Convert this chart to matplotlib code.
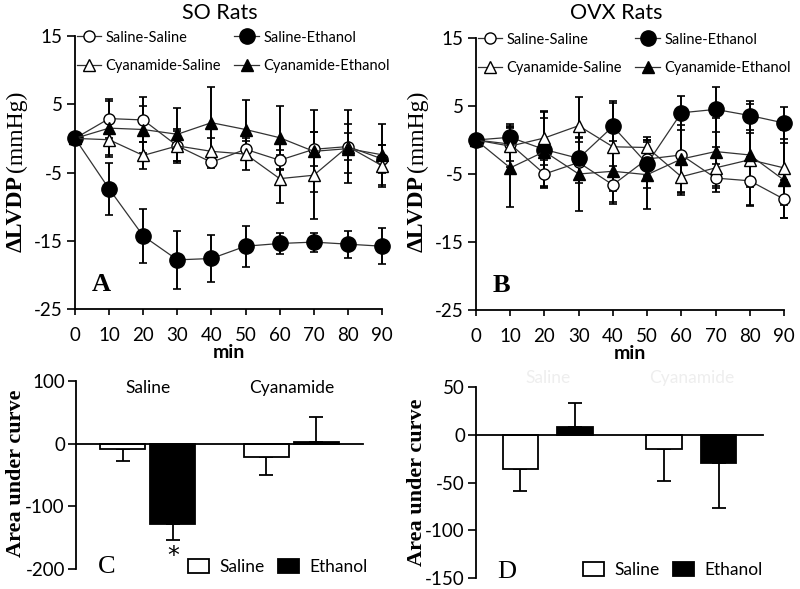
import matplotlib
matplotlib.use("Agg")
import matplotlib.pyplot as plt
from matplotlib.lines import Line2D
from matplotlib.patches import Patch

plt.rcParams["axes.unicode_minus"] = False

SANS = "Lato"
SERIF = "Liberation Serif"

time = [0, 10, 20, 30, 40, 50, 60, 70, 80, 90]
series_names = ["Saline-Saline", "Cyanamide-Saline", "Saline-Ethanol", "Cyanamide-Ethanol"]

# Panel A: SO rats
so_ss = [0, 2.9, 2.7, -1.1, -3.5, -1.6, -3.2, -1.6, -1.2, -3.0]
so_ss_err = [0, 2.8, 3.3, 2.2, 0.8, 1.2, 1.5, 2.5, 2.0, 2.0]
so_se = [0, -7.4, -14.3, -17.8, -17.6, -15.8, -15.4, -15.2, -15.5, -15.8]
so_se_err = [0, 3.8, 4.0, 4.3, 3.4, 3.0, 1.6, 1.4, 2.0, 2.6]
so_cs = [0, -0.2, -2.5, -1.1, -1.9, -2.3, -5.9, -5.4, -1.2, -4.0]
so_cs_err = [0, 2.5, 2.0, 2.5, 2.0, 2.4, 3.5, 6.4, 5.3, 3.1]
so_ce = [0, 1.5, 1.3, 0.6, 2.3, 1.3, 0.1, -1.9, -1.5, -2.4]
so_ce_err = [0, 4.0, 3.5, 3.9, 5.2, 4.3, 4.6, 6.0, 3.6, 4.5]

# Panel B: OVX rats
ovx_ss = [0, -0.6, -5.0, -3.3, -6.6, -2.8, -2.2, -5.6, -6.0, -8.7]
ovx_ss_err = [0, 2.5, 2.0, 3.0, 2.8, 2.5, 5.5, 2.0, 3.5, 2.8]
ovx_se = [0, 0.4, -1.4, -2.7, 2.0, -3.5, 4.0, 4.5, 3.6, 2.5]
ovx_se_err = [0, 2.0, 5.5, 3.0, 3.8, 3.5, 2.5, 3.3, 2.2, 2.4]
ovx_cs = [0, -0.9, 0.3, 2.1, -1.0, -1.1, -5.4, -4.1, -2.9, -4.1]
ovx_cs_err = [0, 3.0, 4.0, 4.2, 6.5, 1.5, 2.7, 3.0, 4.0, 5.5]
ovx_ce = [0, -4.1, -1.7, -5.0, -4.6, -5.1, -2.8, -1.7, -2.2, -5.9]
ovx_ce_err = [0, 5.8, 5.0, 5.4, 4.5, 5.1, 5.0, 5.0, 7.5, 5.5]

# Panels C/D: area under curve
groups = ["Saline", "Cyanamide"]
c_saline = [-8, -22]
c_saline_err = [19, 28]
c_ethanol = [-128, 2]
c_ethanol_err = [26, 40]
d_saline = [-36, -15]
d_saline_err = [23, 33]
d_ethanol = [8, -30]
d_ethanol_err = [25, 47]

W, H = 800, 589
fig = plt.figure(figsize=(8, 5.89), dpi=100)


def ax_px(l, t, r, b):
    return fig.add_axes([l / W, 1 - b / H, (r - l) / W, (b - t) / H])


styles = {
    "Saline-Saline": dict(marker="o", mfc="white", ms=8),
    "Saline-Ethanol": dict(marker="o", mfc="black", ms=11),
    "Cyanamide-Saline": dict(marker="^", mfc="white", ms=8),
    "Cyanamide-Ethanol": dict(marker="^", mfc="black", ms=8),
}


def line_panel(ax, data, letter, leg_x):
    for name, (vals, errs) in data.items():
        st = styles[name]
        ax.errorbar(time, vals, yerr=errs, fmt="none", ecolor="black",
                    elinewidth=1.4, capsize=3, capthick=1.2, clip_on=False, zorder=2)
        ax.plot(time, vals, color="#333333", lw=0.9, marker=st["marker"], ms=st["ms"],
                mfc=st["mfc"], mec="black", mew=1.0, clip_on=False, zorder=3)
    ax.set_xlim(0, 90)
    ax.set_ylim(-25, 15)
    ax.set_xticks(time)
    ax.set_yticks([15, 5, -5, -15, -25])
    for s in ["top", "right"]:
        ax.spines[s].set_visible(False)
    for s in ["left", "bottom"]:
        ax.spines[s].set_linewidth(1.3)
    ax.tick_params(axis="x", direction="out", length=4, width=1.2, labelsize=13.5, pad=9)
    ax.tick_params(axis="y", direction="out", length=6, width=1.2, labelsize=13.5, pad=3)
    for lab in ax.get_xticklabels() + ax.get_yticklabels():
        lab.set_family(SANS)
    ax.set_xlabel("min", fontsize=14, fontweight="bold", family=SANS, labelpad=0)
    ax.text(0.055, 0.09, letter, transform=ax.transAxes, fontsize=19,
            fontweight="bold", family=SERIF, va="center")
    order = ["Saline-Saline", "Cyanamide-Saline", "Saline-Ethanol", "Cyanamide-Ethanol"]
    handles = [Line2D([0], [0], color="#333333", lw=0.9, marker=styles[n]["marker"],
                      ms=styles[n]["ms"], mfc=styles[n]["mfc"], mec="black") for n in order]
    ax.legend(handles, order, ncol=2, loc="upper left", bbox_to_anchor=(leg_x, 1.02),
              frameon=False, handlelength=1.7, handletextpad=0.3, columnspacing=0.9,
              labelspacing=1.0, borderpad=0, borderaxespad=0,
              prop={"family": SANS, "size": 10.5})


axA = ax_px(75, 36, 382, 309)
line_panel(axA, {"Saline-Saline": (so_ss, so_ss_err), "Saline-Ethanol": (so_se, so_se_err),
                 "Cyanamide-Saline": (so_cs, so_cs_err), "Cyanamide-Ethanol": (so_ce, so_ce_err)},
           "A", 0.005)
axB = ax_px(476, 38, 784, 310)
line_panel(axB, {"Saline-Saline": (ovx_ss, ovx_ss_err), "Saline-Ethanol": (ovx_se, ovx_se_err),
                 "Cyanamide-Saline": (ovx_cs, ovx_cs_err), "Cyanamide-Ethanol": (ovx_ce, ovx_ce_err)},
           "B", 0.005)

fig.text(220 / W, 1 - 13 / H, "SO Rats", ha="center", va="center", fontsize=15.5, family=SANS)
fig.text(616 / W, 1 - 13 / H, "OVX Rats", ha="center", va="center", fontsize=15.5, family=SANS)

# y labels for line panels
for x in (16, 417):
    fig.text(x / W, 1 - 214 / H, "ΔLVDP", rotation=90, ha="center", va="center",
             fontsize=17, fontweight="bold", family=SERIF)
    fig.text(x / W, 1 - 131 / H, "(mmHg)", rotation=90, ha="center", va="center",
             fontsize=17, family=SERIF)


def bar_panel(ax, sal, sal_err, eth, eth_err, ylim, yticks, letter, grp_color, grp_y,
              off, width, letter_xy, leg_xy):
    centers = [1, 3]
    xs_s = [c - off for c in centers]
    xs_e = [c + off for c in centers]
    ax.bar(xs_s, sal, width=width, color="white", edgecolor="black", lw=1.3, zorder=2)
    ax.bar(xs_e, eth, width=width, color="black", edgecolor="black", lw=1.3, zorder=2)
    for xs, vals, errs in ((xs_s, sal, sal_err), (xs_e, eth, eth_err)):
        for x, v, e in zip(xs, vals, errs):
            yerr = [[0], [e]] if v >= 0 else [[e], [0]]
            ax.errorbar([x], [v], yerr=yerr, fmt="none", ecolor="black",
                        elinewidth=1.3, capsize=5, capthick=1.3, zorder=1)
    ax.set_ylim(*ylim)
    ax.set_xlim(0, 4)
    ax.set_yticks(yticks)
    ax.set_xticks([])
    ax.spines["top"].set_visible(False)
    ax.spines["right"].set_visible(False)
    ax.spines["bottom"].set_position(("data", 0))
    ax.spines["bottom"].set_linewidth(1.3)
    ax.spines["left"].set_linewidth(1.3)
    ax.tick_params(axis="y", direction="out", length=6, width=1.2, labelsize=13.5, pad=2)
    for lab in ax.get_yticklabels():
        lab.set_family(SANS)
    for c, g in zip(centers, groups):
        ax.text(c, grp_y, g, ha="center", va="center", fontsize=12.5, family=SANS,
                color=grp_color)
    ax.text(letter_xy[0], letter_xy[1], letter, transform=ax.transAxes, fontsize=19,
            family=SERIF, va="center")
    handles = [Patch(facecolor="white", edgecolor="black", lw=1.3),
               Patch(facecolor="black", edgecolor="black", lw=1.3)]
    ax.legend(handles, ["Saline", "Ethanol"], ncol=2, loc="center left",
              bbox_to_anchor=leg_xy, frameon=False, handlelength=1.2,
              handleheight=0.85, handletextpad=0.6, columnspacing=0.8,
              borderpad=0, borderaxespad=0,
              prop={"family": SANS, "size": 12.5})


axC = ax_px(76, 381, 363, 569)
bar_panel(axC, c_saline, c_saline_err, c_ethanol, c_ethanol_err, (-200, 100),
          [100, 0, -100, -200], "C", "black", 89, 0.35, 0.63, (0.075, 0.01), (0.39, 0.01))
axC.text(1 + 0.35, -160, "*", ha="center", va="top", fontsize=17, family="DejaVu Sans")

axD = ax_px(476, 387, 763, 578)
bar_panel(axD, d_saline, d_saline_err, d_ethanol, d_ethanol_err, (-150, 50),
          [50, 0, -50, -100, -150], "D", "#eeeeee", 59, 0.38, 0.5, (0.075, 0.03),
          (0.373, 0.042))

for x, y in ((16, 473), (417, 482)):
    fig.text(x / W, 1 - y / H, "Area under curve", rotation=90, ha="center", va="center",
             fontsize=16, fontweight="bold", family=SERIF)

fig.savefig("out.png", dpi=100)
